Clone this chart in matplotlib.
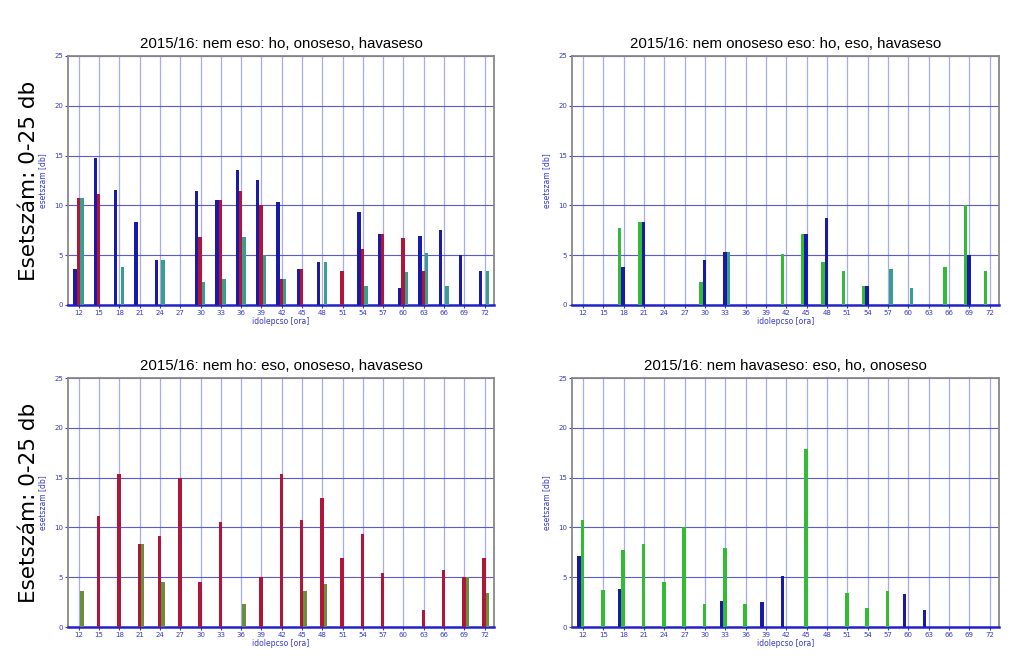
import matplotlib
matplotlib.use("Agg")
import matplotlib.pyplot as plt
import numpy as np

# idolepcsok (ora)
steps = list(range(12, 73, 3))

# panel 1: nem eso -> ho, onoseso, havaseso
p1_ho = [3.6, 14.8, 11.5, 8.3, 4.5, 0, 11.4, 10.5, 13.6, 12.5, 10.3, 3.6, 4.3, 0, 9.3, 7.1, 1.7, 6.9, 7.5, 5.0, 3.4]
p1_onoseso = [10.7, 11.1, 0, 0, 0, 0, 6.8, 10.5, 11.4, 10.0, 2.6, 3.6, 0, 3.4, 5.6, 7.1, 6.7, 3.4, 0, 0, 0]
p1_havaseso = [10.7, 0, 3.8, 0, 4.5, 0, 2.3, 2.6, 6.8, 5.0, 2.6, 0, 4.3, 0, 1.9, 0, 3.3, 5.2, 1.9, 0, 3.4]

# panel 2: nem onoseso eso -> eso, ho, havaseso
p2_eso = [0, 0, 7.7, 8.3, 0, 0, 2.3, 0, 0, 0, 5.1, 7.1, 4.3, 3.4, 1.9, 0, 0, 0, 3.8, 10.0, 3.4]
p2_ho = [0, 0, 3.8, 8.3, 0, 0, 4.5, 5.3, 0, 0, 0, 7.1, 8.7, 0, 1.9, 0, 0, 0, 0, 5.0, 0]
p2_havaseso = [0, 0, 0, 0, 0, 0, 0, 5.3, 0, 0, 0, 0, 0, 0, 0, 3.6, 1.7, 0, 0, 0, 0]

# panel 3: nem ho -> eso, onoseso, havaseso
p3_eso = [0] * 21
p3_onoseso = [0, 11.1, 15.4, 8.3, 9.1, 15.0, 4.5, 10.5, 0, 5.0, 15.4, 10.7, 13.0, 6.9, 9.3, 5.4, 0, 1.7, 5.7, 5.0, 6.9]
p3_havaseso = [3.6, 0, 0, 8.3, 4.5, 0, 0, 0, 2.3, 0, 0, 3.6, 4.3, 0, 0, 0, 0, 0, 0, 5.0, 3.4]

# panel 4: nem havaseso -> ho, eso, onoseso
p4_ho = [7.1, 0, 3.8, 0, 0, 0, 0, 2.6, 0, 2.5, 5.1, 0, 0, 0, 0, 0, 3.3, 1.7, 0, 0, 0]
p4_eso = [10.7, 3.7, 7.7, 8.3, 4.5, 10.0, 2.3, 7.9, 2.3, 0, 0, 17.9, 0, 3.4, 1.9, 3.6, 0, 0, 0, 0, 0]
p4_onoseso = [0] * 21

titles = ["2015/16: nem eso: ho, onoseso, havaseso",
          "2015/16: nem onoseso eso: ho, eso, havaseso",
          "2015/16: nem ho: eso, onoseso, havaseso",
          "2015/16: nem havaseso: eso, ho, onoseso"]

blue = '#1a1aa8'
red = '#b0163a'
teal = '#3a9e8c'
green = '#33bb33'
olive = '#6b8e3a'

panels = [
    [(p1_ho, blue), (p1_onoseso, red), (p1_havaseso, teal)],
    [(p2_eso, green), (p2_ho, blue), (p2_havaseso, teal)],
    [(p3_eso, blue), (p3_onoseso, red), (p3_havaseso, olive)],
    [(p4_ho, blue), (p4_eso, green), (p4_onoseso, red)],
]

fig = plt.figure(figsize=(10.24, 6.64), dpi=100)

boxes = [[0.0664, 0.5407, 0.416, 0.375],
         [0.5586, 0.5407, 0.417, 0.375],
         [0.0664, 0.0557, 0.416, 0.375],
         [0.5586, 0.0557, 0.417, 0.375]]

offsets = [-0.55, -0.05, 0.45]
w = 0.5
x = np.array(steps, dtype=float)

for i in range(4):
    ax = fig.add_axes(boxes[i])
    for j in range(3):
        vals, col = panels[i][j]
        ax.bar(x + offsets[j], vals, width=w, color=col, zorder=3)
    ax.set_xlim(10.4, 73.4)
    ax.set_ylim(0, 25)
    ax.set_xticks(steps)
    ax.set_yticks([0, 5, 10, 15, 20, 25])
    ax.tick_params(labelsize=5, colors='#3838cc', length=2, pad=1.5)
    ax.xaxis.grid(True, color='#aaaaf0', lw=0.9, zorder=0)
    ax.yaxis.grid(True, color='#5a5ad6', lw=0.8, zorder=0)
    for s in ['left', 'top', 'right']:
        ax.spines[s].set_color('#888888')
        ax.spines[s].set_linewidth(1.3)
    ax.spines['bottom'].set_color('#2222cc')
    ax.spines['bottom'].set_linewidth(1.8)
    ax.set_xlabel('idolepcso [ora]', fontsize=5.5, color='#3838cc', labelpad=1)
    ax.set_ylabel('esetszam [db]', fontsize=5.5, color='#3838cc', labelpad=5)
    ax.set_title(titles[i], fontsize=10.8, pad=6, family='Liberation Sans')

fig.text(0.028, 0.728, 'Esetszám: 0-25 db', rotation=90, fontsize=15.5, ha='center', va='center')
fig.text(0.028, 0.243, 'Esetszám: 0-25 db', rotation=90, fontsize=15.5, ha='center', va='center')

fig.savefig('out.png', dpi=100)
